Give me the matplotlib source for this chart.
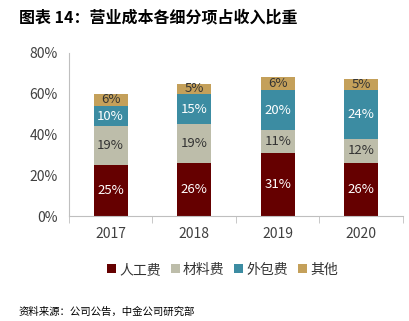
import numpy as np
import matplotlib
matplotlib.use("Agg")
import matplotlib.pyplot as plt

plt.rcParams['font.family'] = ['Noto Sans CJK SC', 'DejaVu Sans']

years = ['2017', '2018', '2019', '2020']
series = ['人工费', '材料费', '外包费', '其他']
labor = [25, 26, 31, 26]
material = [19, 19, 11, 12]
outsource = [10, 15, 20, 24]
other = [6, 5, 6, 5]
colors = ['#650000', '#BDBDAA', '#3C8CA2', '#C4A05A']
text_colors = ['white', '#333333', 'white', '#333333']

fig = plt.figure(figsize=(4.1, 3.21), dpi=100)
ax = fig.add_axes([0.168, 0.327, 0.815, 0.508])

x = np.arange(len(years))
bottom = np.zeros(len(years))
for name, vals, c, tc in zip(series, [labor, material, outsource, other], colors, text_colors):
    bars = ax.bar(x, vals, width=0.41, bottom=bottom, color=c, label=name)
    ax.bar_label(bars, labels=[f'{v}%' for v in vals], label_type='center',
                 color=tc, fontsize=9.5)
    bottom += np.array(vals)

ax.set_xlim(-0.5, 3.5)
ax.set_ylim(0, 80)
ax.set_yticks([0, 20, 40, 60, 80])
ax.set_yticklabels([f'{v}%' for v in range(0, 81, 20)])
ax.set_xticks(x)
ax.set_xticklabels(years)
ax.set_xticks([-0.5, 0.5, 1.5, 2.5, 3.5], minor=True)
ax.tick_params(axis='x', which='major', length=0, pad=8, labelsize=10, labelcolor='#404040')
ax.tick_params(axis='x', which='minor', length=5, color='#BFBFBF')
ax.tick_params(axis='y', length=0, pad=8, labelsize=10, labelcolor='#404040')
for s in ['top', 'right']:
    ax.spines[s].set_visible(False)
for s in ['left', 'bottom']:
    ax.spines[s].set_color('#BFBFBF')

fig.legend(loc='center', bbox_to_anchor=(0.543, 0.16), ncol=4, frameon=False,
           fontsize=10, handlelength=0.65, handleheight=0.65, handletextpad=0.25,
           columnspacing=0.7, labelcolor='#333333')

fig.text(0.046, 0.945, '图表 14：营业成本各细分项占收入比重', fontsize=11.5,
         fontweight='bold', va='center', ha='left')
fig.text(0.046, 0.028, '资料来源：公司公告，中金公司研究部', fontsize=7.5,
         va='center', ha='left')

fig.savefig('out.png', dpi=100)
